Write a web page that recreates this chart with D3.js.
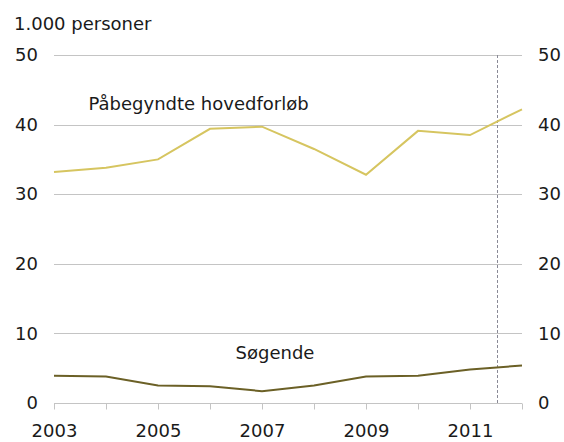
<!DOCTYPE html>
<html>
<head>
<meta charset="utf-8">
<script src="https://cdn.jsdelivr.net/npm/d3@7"></script>
<style>
  body { margin: 0; background: #fff; }
  text { font-family: "DejaVu Sans", sans-serif; fill: #1a1a1a; }
</style>
</head>
<body>
<div id="chart"></div>
<script>
const years = [2003, 2004, 2005, 2006, 2007, 2008, 2009, 2010, 2011, 2012];
const paabegyndte = [33.2, 33.8, 35.0, 39.4, 39.7, 36.5, 32.8, 39.1, 38.5, 42.2];
const soegende = [3.9, 3.8, 2.5, 2.4, 1.7, 2.5, 3.8, 3.9, 4.8, 5.4];
const yTicks = [0, 10, 20, 30, 40, 50];
const xLabels = [2003, 2005, 2007, 2009, 2011];
const markerYear = 2011.52;

const margin = { top: 55, right: 42, bottom: 39, left: 54 },
  width = 564 - margin.left - margin.right,
  height = 442 - margin.top - margin.bottom,
  colorA = "#d6c560",
  colorB = "#6b6026",
  gridColor = "#c4c4c4",
  fontSize = "18px";

const svg = d3
  .select("#chart")
  .append("svg")
  .attr("width", 564)
  .attr("height", 442);

const g = svg
  .append("g")
  .attr("transform", "translate(" + margin.left + "," + margin.top + ")");

const x = d3.scaleLinear().domain([2003, 2012]).range([0, width]);
const y = d3.scaleLinear().domain([0, 50]).range([height, 0]);

// gridlines
g.selectAll(".grid")
  .data(yTicks.filter(d => d > 0))
  .enter()
  .append("line")
  .attr("x1", 0)
  .attr("x2", width)
  .attr("y1", d => Math.round(y(d)) + 0.5)
  .attr("y2", d => Math.round(y(d)) + 0.5)
  .style("stroke", gridColor)
  .style("stroke-width", 1);

// x axis
const xAxis = d3
  .axisBottom(x)
  .tickValues(years)
  .tickSize(6)
  .tickPadding(15)
  .tickFormat(d => (xLabels.includes(d) ? d : ""));
const xg = g
  .append("g")
  .attr("transform", "translate(0," + (Math.round(height) + 0.5) + ")")
  .call(xAxis);
xg.select(".domain").attr("d", "M0,0H" + width).style("stroke", gridColor);
xg.selectAll(".tick line").style("stroke", gridColor);
xg.selectAll(".tick text").style("font-size", fontSize).style("fill", "#1a1a1a");

// y axes, left and right
const yLeft = d3.axisLeft(y).tickValues(yTicks).tickSize(0).tickPadding(16);
const yRight = d3.axisRight(y).tickValues(yTicks).tickSize(0).tickPadding(16);
const yl = g.append("g").call(yLeft);
const yr = g.append("g").attr("transform", "translate(" + width + ",0)").call(yRight);
[yl, yr].forEach(a => {
  a.select(".domain").remove();
  a.selectAll(".tick text").style("font-size", fontSize).style("fill", "#1a1a1a");
});

// dashed marker
g.append("line")
  .attr("x1", Math.round(x(markerYear)) + 0.5)
  .attr("x2", Math.round(x(markerYear)) + 0.5)
  .attr("y1", y(50))
  .attr("y2", y(0))
  .style("stroke", "#8a8a96")
  .style("stroke-width", 1)
  .style("stroke-dasharray", "3,2");

const line = d3
  .line()
  .x((d, i) => x(years[i]))
  .y(d => y(d));

g.append("path")
  .datum(paabegyndte)
  .attr("fill", "none")
  .attr("stroke", colorA)
  .attr("stroke-width", 2)
  .attr("d", line);

g.append("path")
  .datum(soegende)
  .attr("fill", "none")
  .attr("stroke", colorB)
  .attr("stroke-width", 2)
  .attr("d", line);

// series labels
g.append("text")
  .attr("x", x(2005.78))
  .attr("y", y(42.1))
  .attr("text-anchor", "middle")
  .style("font-size", fontSize)
  .text("Påbegyndte hovedforløb");

g.append("text")
  .attr("x", x(2007.25))
  .attr("y", y(6.3))
  .attr("text-anchor", "middle")
  .style("font-size", fontSize)
  .text("Søgende");

// unit label
svg.append("text")
  .attr("x", 14)
  .attr("y", 30)
  .style("font-size", fontSize)
  .text("1.000 personer");
</script>
</body>
</html>
